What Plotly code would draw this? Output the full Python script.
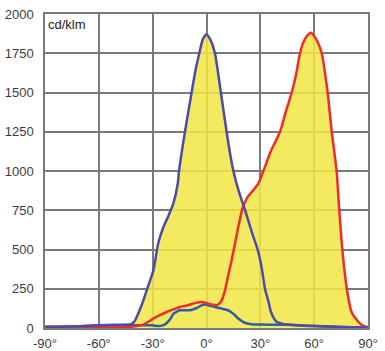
import numpy as np
import plotly.graph_objects as go

# Main purple curve (C0-C180 plane)
purple_x = [-90, -75, -60, -50, -43, -42, -40, -38.9, -36, -33.9, -31.5, -29.6, -28, -26.9, -24, -21, -18.5, -16, -15.3,
            -12, -8.3, -6, -4, -2, 0, 2, 4.7, 8, 11.2, 13, 15, 18, 21.5, 25, 28.5, 30.5, 32.6, 34.5, 36, 39, 42,
            45, 60, 75, 90]
purple_y = [5, 10, 17, 20, 22, 25, 45, 70, 150, 220, 300, 367, 470, 540, 643, 720, 792, 920, 1000,
            1250, 1500, 1650, 1750, 1840, 1870, 1840, 1750, 1500, 1250, 1120, 1000, 870, 750, 620, 500, 400, 250, 170, 100, 40, 28,
            22, 12, 6, 2]

# Red curve (C90-C270 plane)
red_x = [-90, -80, -70, -60, -50, -42, -37, -33, -29.6, -26, -22.2, -18, -14.8, -12, -9.2, -6, -2.7, 1, 3.5, 5.7, 7.5,
         8.5, 10.3, 12, 14, 17.7, 20, 21.5, 23, 25.2, 28.9, 31.7, 36, 41, 44, 47.5, 50, 52.1, 54, 56, 58.2, 60, 62,
         64.2, 67.5, 69.8, 72.5, 74, 75.7, 78.2, 80.9, 84.6, 87, 90]
red_y = [10, 8, 5, 3, 3, 8, 15, 35, 60, 82, 102, 120, 134, 140, 149, 160, 166, 155, 148, 145, 160,
         176, 240, 330, 431, 643, 760, 803, 835, 866, 920, 1000, 1130, 1250, 1370, 1500, 1620, 1750, 1820, 1860, 1881, 1860, 1820,
         1750, 1500, 1250, 1000, 750, 500, 250, 100, 40, 15, 5]

# Low blue curve
blue_x = [-90, -75, -60, -45, -35, -30, -27, -24, -22.3, -20, -18.5, -16, -14.8, -12, -9.2, -7.4, -5, -3, -0.8,
          2, 4.7, 8, 12, 15, 17.7, 21, 25.2, 30, 45, 60, 75, 90]
blue_y = [5, 10, 15, 18, 18, 17, 12, 18, 30, 60, 90, 108, 113, 113, 113, 119, 130, 143, 149,
          142, 134, 125, 113, 90, 60, 35, 24, 22, 20, 12, 6, 2]

x_ticks = [-90, -60, -30, 0, 30, 60, 90]
x_tick_text = ["-90°", "-60°", "-30°", "0°", "30°", "60°", "90°"]
y_ticks = [0, 250, 500, 750, 1000, 1250, 1500, 1750, 2000]

# union of the areas under the curves
xx = np.linspace(-90, 90, 721)
union = np.maximum.reduce([np.interp(xx, purple_x, purple_y),
                           np.interp(xx, red_x, red_y),
                           np.interp(xx, blue_x, blue_y)])

fig = go.Figure()
fig.add_trace(go.Scatter(x=xx, y=union, mode="lines", line=dict(width=0),
                         fill="tozeroy", fillcolor="rgba(241,231,70,0.86)", hoverinfo="skip", showlegend=False))
fig.add_trace(go.Scatter(x=blue_x, y=blue_y, mode="lines",
                         line=dict(color="#2a5cb0", width=2.5, shape="spline", smoothing=0.6), showlegend=False))
fig.add_trace(go.Scatter(x=red_x, y=red_y, mode="lines",
                         line=dict(color="#ee2b2e", width=2.5, shape="spline", smoothing=0.6), showlegend=False))
fig.add_trace(go.Scatter(x=purple_x, y=purple_y, mode="lines",
                         line=dict(color="#4b4ba8", width=2.5, shape="spline", smoothing=0.6), showlegend=False))

fig.update_layout(
    width=385, height=351,
    margin=dict(l=45, r=17, t=14, b=23, autoexpand=False),
    paper_bgcolor="white", plot_bgcolor="white",
    font=dict(family="Liberation Sans, Arial, sans-serif", size=13, color="#3c3c3c"),
    showlegend=False,
    annotations=[dict(text="cd/klm", xref="paper", yref="paper", x=0, y=1,
                      xanchor="left", yanchor="top", xshift=1, yshift=-1, showarrow=False,
                      font=dict(size=13, color="#222222"))],
)
fig.update_xaxes(range=[-90, 90], tickvals=x_ticks, ticktext=x_tick_text, automargin=False,
                 showgrid=True, gridcolor="#7a7a7a", gridwidth=1.5,
                 showline=True, linecolor="#7a7a7a", linewidth=1.5, mirror=True,
                 zeroline=False, ticks="outside", ticklen=3, tickcolor="rgba(0,0,0,0)")
fig.update_yaxes(range=[0, 2000], tickvals=y_ticks, automargin=False,
                 showgrid=True, gridcolor="#7a7a7a", gridwidth=1.5,
                 showline=True, linecolor="#7a7a7a", linewidth=1.5, mirror=True,
                 zeroline=False, ticks="outside", ticklen=7, tickcolor="rgba(0,0,0,0)")

# remove the default 8px page margin so the figure sits at the window's corner
fig.write_html("out.html", config={"displayModeBar": False},
               post_script="document.body.style.margin='0';")
